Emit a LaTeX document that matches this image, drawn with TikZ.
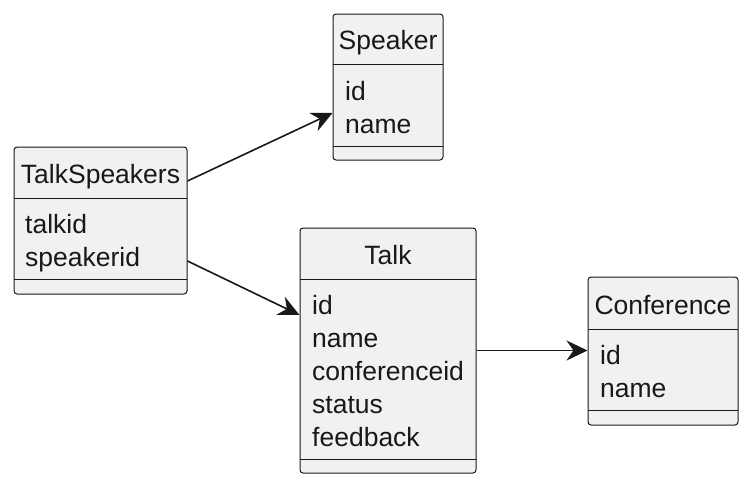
\documentclass[tikz,border=0pt]{standalone}
\usepackage{fontspec}
\setmainfont{Liberation Sans}
\usetikzlibrary{arrows.meta, positioning, calc}
\definecolor{umlfill}{HTML}{F1F1F1}
\definecolor{umlline}{HTML}{181818}

\begin{document}
\begin{tikzpicture}[
    x=1pt, y=-1pt,
    classbox/.style={rectangle, rounded corners=3pt, draw=umlline, fill=umlfill, line width=1pt, inner sep=0pt},
    title/.style={anchor=base, font=\fontsize{26.5}{32}\selectfont, inner sep=0pt, text=umlline},
    field/.style={anchor=base west, font=\fontsize{26.5}{32}\selectfont, inner sep=0pt, text=umlline},
    sep/.style={draw=umlline, line width=1pt},
    arrow/.style={draw=umlline, line width=1.6pt, -{Stealth[length=21pt, width=20pt, inset=7pt]}},
]
    \useasboundingbox (0,0) rectangle (750,485);

    % Speaker
    \node (speaker) [classbox, minimum width=110pt, minimum height=146pt] at (388,87) {};
    \draw [sep] (333,64) -- (443,64);
    \draw [sep] (333,146) -- (443,146);
    \node (speakerTitle) [title] at (388,49) {Speaker};
    \node (speakerId) [field] at (345,100) {id};
    \node (speakerName) [field] at (345,133) {name};

    % TalkSpeakers
    \node (ts) [classbox, minimum width=173pt, minimum height=147pt] at (100.5,220.5) {};
    \draw [sep] (14,198) -- (187,198);
    \draw [sep] (14,279) -- (187,279);
    \node (tsTitle) [title] at (100.5,183) {TalkSpeakers};
    \node (tsTalk) [field] at (25,233) {talkid};
    \node (tsSpeaker) [field] at (25,266) {speakerid};

    % Talk
    \node (talk) [classbox, minimum width=176pt, minimum height=245pt] at (388,350.5) {};
    \draw [sep] (300,279) -- (476,279);
    \draw [sep] (300,459) -- (476,459);
    \node (talkTitle) [title] at (388,264) {Talk};
    \node (talkId) [field] at (312,314) {id};
    \node (talkName) [field] at (312,347) {name};
    \node (talkConf) [field] at (312,380) {conferenceid};
    \node (talkStatus) [field] at (312,413) {status};
    \node (talkFeedback) [field] at (312,446) {feedback};

    % Conference
    \node (conf) [classbox, minimum width=150pt, minimum height=148pt] at (663,351) {};
    \draw [sep] (588,329) -- (738,329);
    \draw [sep] (588,410) -- (738,410);
    \node (confTitle) [title] at (663,314) {Conference};
    \node (confId) [field] at (600,364) {id};
    \node (confName) [field] at (600,397) {name};

    \draw [arrow] ([yshift=39.5pt]ts.east) -- ([yshift=-26pt]speaker.west);
    \draw [arrow] ([yshift=-40.5pt]ts.east) -- ([yshift=35.5pt]talk.west);
    \draw [arrow] (talk.east) -- (talk.east -| conf.west);

\end{tikzpicture}
\end{document}
